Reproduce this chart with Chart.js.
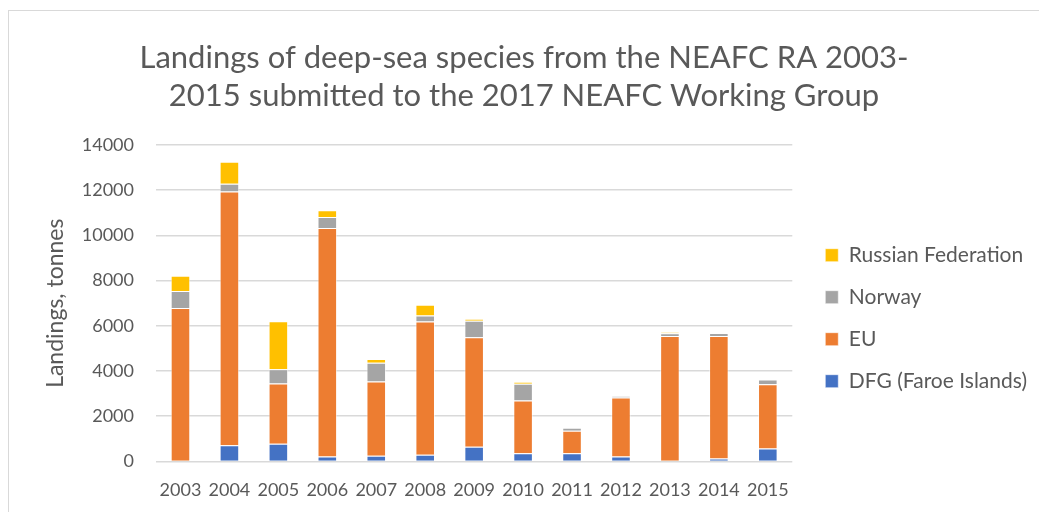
<!DOCTYPE html>
<html>
<head>
<meta charset="utf-8">
<script src="https://cdn.jsdelivr.net/npm/chart.js@4.4.1/dist/chart.umd.min.js"></script>
<style>
  html, body { margin: 0; padding: 0; background: #fff; overflow: hidden; }
  #frame { position: absolute; left: 8px; top: 10px; width: 1040px; height: 510px; border: 1px solid #d9d9d9; box-sizing: border-box; }
  #wrap { position: absolute; left: 0; top: 0; width: 1039px; height: 512px; }
</style>
</head>
<body>
<div id="frame"></div>
<div id="wrap"><canvas id="c" width="1039" height="512"></canvas></div>
<script>
const years = ['2003','2004','2005','2006','2007','2008','2009','2010','2011','2012','2013','2014','2015'];
const dfg    = [0, 711, 785, 222, 250, 296, 650, 356, 365, 213, 0, 125, 570];
const eu     = [6785, 11230, 2667, 10104, 3290, 5897, 4846, 2340, 990, 2620, 5547, 5420, 2843];
const norway = [755, 340, 622, 489, 830, 266, 726, 740, 135, 50, 120, 133, 210];
const russia = [680, 980, 2133, 296, 160, 474, 90, 90, 0, 0, 45, 0, 0];
const seriesNames = ['DFG (Faroe Islands)', 'EU', 'Norway', 'Russian Federation'];
const titleLines = ['Landings of deep-sea species from the NEAFC RA 2003-', '2015 submitted to the 2017 NEAFC Working Group'];
const yTitle = 'Landings, tonnes';

const FONT = 'Lato, "Open Sans", sans-serif';
const TXT = '#595959';
const colors = ['#4472C4', '#ED7D31', '#A5A5A5', '#FFC000'];
const values = [dfg, eu, norway, russia];

Chart.defaults.font.family = FONT;
Chart.defaults.color = TXT;

// shift the legend a little to the right of its layout slot
const legendShift = {
  id: 'legendShift',
  afterLayout(chart) {
    const l = chart.legend;
    if (l) { l.left += 12; l.right += 12; }
  }
};

new Chart(document.getElementById('c'), {
  type: 'bar',
  data: {
    labels: years,
    datasets: values.map((v, i) => ({
      label: seriesNames[i],
      data: v,
      backgroundColor: colors[i],
      borderColor: 'rgba(255,255,255,0.55)',
      borderWidth: 1,
      categoryPercentage: 1.0,
      barPercentage: 0.4
    }))
  },
  plugins: [legendShift],
  options: {
    responsive: false,
    animation: false,
    layout: { padding: { top: 39, left: 23, right: 14, bottom: -7 } },
    plugins: {
      title: {
        display: true,
        text: titleLines,
        color: TXT,
        font: { size: 31, weight: 'normal', lineHeight: 1.226 },
        padding: { top: 0, bottom: 30 }
      },
      legend: {
        position: 'right',
        reverse: true,
        title: { display: true, text: '', font: { size: 12 }, padding: { top: 64, bottom: 0 } },
        labels: {
          boxWidth: 13,
          boxHeight: 13,
          padding: 21,
          color: TXT,
          font: { size: 21 }
        }
      },
      tooltip: { enabled: false }
    },
    scales: {
      x: {
        stacked: true,
        grid: { display: false, drawTicks: false },
        border: { display: false },
        ticks: { color: TXT, font: { size: 18 }, padding: 18, maxRotation: 0 }
      },
      y: {
        stacked: true,
        min: 0,
        max: 14000,
        ticks: { stepSize: 2000, color: TXT, font: { size: 18 }, padding: 22, callback: (v) => String(v) },
        grid: { color: '#d9d9d9', lineWidth: 1.5, drawTicks: false },
        border: { display: false },
        title: { display: true, text: yTitle, color: TXT, font: { size: 23 }, padding: { top: 19, bottom: 4 } },
        afterFit: (s) => { s.width = 133; }
      }
    }
  }
});
</script>
</body>
</html>
